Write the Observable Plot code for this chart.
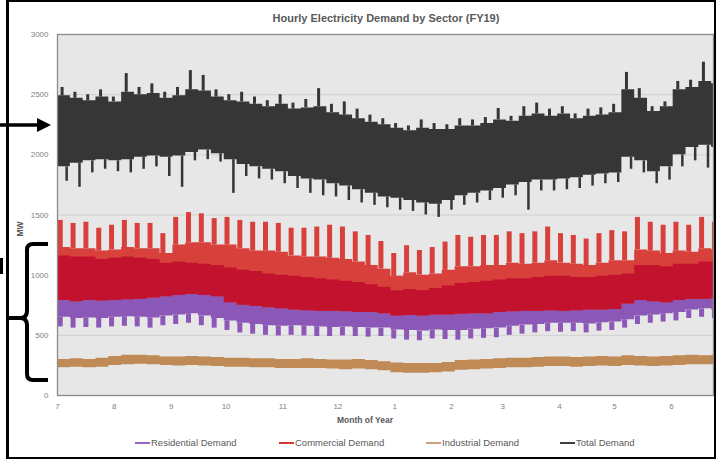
<!DOCTYPE html>
<html><head><meta charset="utf-8">
<script src="https://cdn.jsdelivr.net/npm/d3@7"></script>
<script src="https://cdn.jsdelivr.net/npm/@observablehq/plot@0.6"></script>
<style>
html,body{margin:0;padding:0;background:#fff;}
#wrap{position:relative;width:716px;height:459px;overflow:hidden;font-family:"Liberation Sans",Arial,sans-serif;}
#chart{position:absolute;left:0;top:0;}
.lbl{position:absolute;white-space:nowrap;color:#595959;}
.title{left:386px;top:12px;transform:translateX(-50%);font-weight:bold;font-size:11px;}
.xtitle{left:365px;top:415px;transform:translateX(-50%);font-weight:bold;font-size:8.5px;}
.ytitle{left:20px;top:229px;transform:translate(-50%,-50%) rotate(-90deg);font-weight:bold;font-size:8.5px;}
.leg{position:absolute;top:437px;font-size:9.5px;color:#595959;white-space:nowrap;display:flex;align-items:center;}
.leg i{display:inline-block;width:15px;height:2px;margin-right:1px;}
#ann{position:absolute;left:0;top:0;pointer-events:none;}
</style></head><body>
<div id="wrap">
  <div id="chart"></div>
  <div class="lbl title">Hourly Electricity Demand by Sector (FY19)</div>
  <div class="lbl xtitle">Month of Year</div>
  <div class="lbl ytitle">MW</div>
  <div id="legend"></div>
  <svg id="ann" width="716" height="459">
    <rect x="6" y="0" width="3" height="459" fill="#000"/>
    <rect x="6" y="0" width="710" height="2" fill="#000"/>
    <rect x="714" y="0" width="2" height="459" fill="#000"/>
    <rect x="6" y="457" width="710" height="2" fill="#000"/>
    <rect x="0" y="258" width="3" height="16" fill="#000"/>
    <line x1="0" y1="125" x2="40" y2="125" stroke="#000" stroke-width="3.5"/>
    <polygon points="37,118 51,125 37,132" fill="#000"/>
    <path d="M48,244 H33 Q27,244 27,250 V311 Q27,318 20,318 H8 M20,318 Q27,318 27,325 V374 Q27,380 33,380 H48" fill="none" stroke="#000" stroke-width="4"/>
  </svg>
</div>
<script>
// ---- axis data ----
const monthStartDay = [0,31,62,92,123,153,184,215,243,274,304,335];
const monthLabels = ["7","8","9","10","11","12","1","2","3","4","5","6"];
const yTicks = [0,500,1000,1500,2000,2500,3000];

// ---- weekly readings (MW), week 0 = first week of July 2018 ----
const totalPeak = [2560,2520,2500,2540,2480,2675,2560,2590,2520,2560,2700,2660,2540,2500,2520,2480,2450,2500,2430,2460,2550,2420,2440,2380,2330,2300,2260,2240,2290,2260,2250,2300,2290,2310,2385,2320,2400,2430,2380,2400,2340,2380,2390,2420,2685,2550,2400,2440,2610,2620,2770,2680];
const totalTop  = [2490,2470,2450,2480,2440,2520,2500,2510,2470,2490,2540,2530,2480,2450,2440,2420,2400,2420,2380,2390,2400,2350,2330,2300,2270,2250,2220,2200,2220,2210,2210,2240,2240,2260,2290,2280,2320,2340,2320,2340,2300,2320,2330,2350,2540,2470,2360,2400,2540,2560,2610,2590];
const totalBot  = [1900,1930,1950,1960,1950,1960,1980,1990,1980,1990,2020,2040,2010,1960,1920,1900,1880,1860,1820,1800,1790,1760,1740,1710,1680,1650,1640,1620,1600,1590,1620,1660,1680,1700,1720,1750,1770,1790,1790,1800,1810,1830,1840,1850,1980,1950,1860,1900,2000,2060,2080,2060];
const totalLow  = [1780,1730,1850,1880,1860,1850,1880,1900,1820,1730,1950,1960,1940,1680,1820,1800,1790,1760,1720,1680,1660,1650,1620,1600,1580,1560,1540,1530,1500,1480,1540,1580,1600,1620,1640,1660,1540,1700,1700,1710,1720,1740,1760,1770,1880,1850,1760,1790,1900,1950,1890,1980];

const commercialPeak  = [1455,1430,1440,1390,1415,1455,1430,1430,1345,1480,1520,1510,1470,1480,1455,1440,1440,1430,1390,1390,1400,1415,1400,1360,1330,1280,1180,1245,1205,1230,1275,1330,1315,1330,1330,1360,1345,1360,1400,1345,1330,1300,1345,1370,1360,1480,1440,1415,1440,1415,1480,1440];
const commercialTop   = [1230,1220,1220,1200,1210,1230,1220,1220,1180,1250,1270,1270,1250,1250,1220,1200,1200,1190,1160,1150,1150,1140,1130,1110,1080,1050,990,1020,1000,1010,1040,1070,1070,1080,1080,1100,1090,1100,1120,1100,1090,1080,1100,1120,1120,1210,1200,1180,1200,1190,1220,1210];
const commercialDense = [1160,1150,1150,1130,1140,1150,1140,1130,1100,1110,1100,1090,1080,1060,1040,1030,1010,1000,990,980,970,960,950,940,920,900,870,880,870,890,910,930,940,950,960,970,970,980,990,990,980,980,990,1000,1010,1080,1080,1070,1090,1090,1110,1110];
const commercialBot   = [790,780,790,785,790,795,800,810,820,830,840,830,820,770,750,740,730,720,710,705,700,700,695,690,690,680,660,665,660,670,670,675,680,680,690,695,700,700,705,700,705,710,710,715,760,790,780,770,790,800,800,810];

const residentialTop = [1100,1090,1090,1070,1080,1090,1080,1070,1040,1050,1040,1030,1020,1000,980,970,950,940,930,920,910,900,890,880,860,840,810,820,810,830,850,870,880,890,900,910,910,920,930,930,920,920,930,940,950,1020,1020,1010,1030,1030,1050,1050];
const residentialBot = [650,640,645,640,650,655,650,645,660,670,680,660,640,620,600,590,580,575,580,575,570,565,570,565,560,560,545,540,535,545,540,540,550,555,560,575,585,590,600,600,600,595,605,610,630,660,670,680,690,710,720,710];
const residentialLow = [570,560,565,560,570,575,570,560,580,590,600,580,560,540,520,510,500,495,500,495,490,490,495,490,485,490,470,460,455,470,465,460,470,475,480,500,510,520,530,525,530,520,535,540,560,590,600,610,620,640,650,640];

const industrialTop = [300,305,300,310,325,335,335,330,320,320,325,320,315,310,310,305,305,300,300,305,300,295,295,300,290,280,270,265,265,265,275,290,295,300,305,310,310,315,320,320,315,320,325,320,330,325,320,325,330,335,330,335];
const industrialBot = [230,235,230,235,250,255,260,255,250,245,250,245,240,235,235,230,230,225,225,225,225,220,215,220,215,205,190,185,185,190,195,210,215,220,225,230,230,235,240,240,235,240,245,240,250,245,240,245,250,255,255,255];

// ---- colours ----
const PURPLE = "#8c58b8", RED_LIGHT = "#d8403b", RED_DARK = "#c3122e", TAN = "#bf8a56", DARK = "#363636";

// ---- table built from the arrays ----
const weeks = totalPeak.map((_, i) => ({
  d: 7 * i,
  totHi: totalPeak[i], totTop: totalTop[i], totBot: totalBot[i], totLo: totalLow[i],
  comPeak: commercialPeak[i], comTop: commercialTop[i], comDense: commercialDense[i], comBot: commercialBot[i],
  resTop: residentialTop[i], resBot: residentialBot[i], resLo: residentialLow[i],
  indTop: industrialTop[i], indBot: industrialBot[i]
}));
const stepRows = weeks.concat([{...weeks[weeks.length - 1], d: 7 * weeks.length}]);

const labelOf = new Map(monthStartDay.map((d, i) => [d, monthLabels[i]]));

const chart = Plot.plot({
  width: 716, height: 459,
  marginLeft: 57, marginRight: 3, marginTop: 34, marginBottom: 64,
  style: {background: "transparent", color: "#808080", fontSize: "8px", fontFamily: "Liberation Sans, Arial, sans-serif"},
  x: {domain: [0, 358]},
  y: {domain: [0, 3000]},
  marks: [
    Plot.frame({fill: "#e7e7e7"}),
    Plot.ruleY(yTicks, {stroke: "#d1d1d1", strokeWidth: 1}),
    // residential
    Plot.areaY(stepRows, {x: "d", y1: "resBot", y2: "resTop", curve: "step-after", fill: PURPLE, clip: true}),
    Plot.ruleX(weeks, {x: r => r.d + 1.5, y1: "resLo", y2: "resBot", stroke: PURPLE, strokeWidth: 5, clip: true}),
    // commercial
    Plot.areaY(stepRows, {x: "d", y1: "comBot", y2: "comTop", curve: "step-after", fill: RED_LIGHT, clip: true}),
    Plot.ruleX(weeks, {x: r => r.d + 1.5, y1: "comTop", y2: "comPeak", stroke: RED_LIGHT, strokeWidth: 5, clip: true}),
    Plot.areaY(stepRows, {x: "d", y1: "comBot", y2: "comDense", curve: "step-after", fill: RED_DARK, clip: true}),
    // industrial
    Plot.areaY(stepRows, {x: "d", y1: "indBot", y2: "indTop", curve: "step-after", fill: TAN, clip: true}),
    // total
    Plot.areaY(stepRows, {x: "d", y1: "totBot", y2: "totTop", curve: "step-after", fill: DARK, clip: true}),
    Plot.ruleX(weeks, {x: r => r.d + 2.5, y1: "totTop", y2: "totHi", stroke: DARK, strokeWidth: 3, clip: true}),
    Plot.ruleX(weeks, {x: r => r.d + 5, y1: "totLo", y2: "totBot", stroke: DARK, strokeWidth: 2.5, clip: true}),
    Plot.frame({stroke: "#8a8a8a", strokeWidth: 1.3}),
    Plot.axisY({ticks: yTicks, tickFormat: "d", tickSize: 0, tickPadding: 9, label: null}),
    Plot.axisX({ticks: monthStartDay, tickFormat: d => labelOf.get(d), tickSize: 0, tickPadding: 8, label: null})
  ]
});
document.getElementById("chart").appendChild(chart);

// ---- legend ----
const legendItems = [
  {name: "Residential Demand", color: "#9366c0", left: 135},
  {name: "Commercial Demand", color: "#d23a36", left: 279},
  {name: "Industrial Demand", color: "#c9a27c", left: 426},
  {name: "Total Demand", color: "#404040", left: 560}
];
const leg = document.getElementById("legend");
legendItems.forEach(it => {
  const el = document.createElement("div");
  el.className = "leg";
  el.style.left = it.left + "px";
  el.innerHTML = `<i style="background:${it.color}"></i>${it.name}`;
  leg.appendChild(el);
});
</script>
</body></html>
